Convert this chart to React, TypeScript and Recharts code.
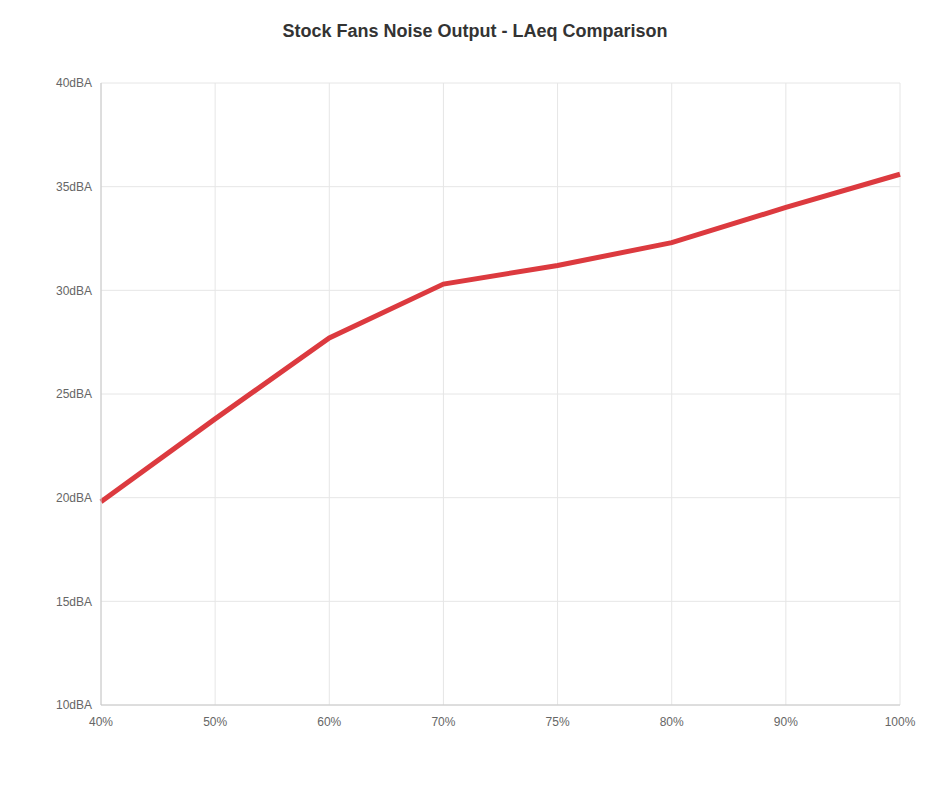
import React from "react";
import { LineChart, Line, XAxis, YAxis, CartesianGrid } from "recharts";

const categories = ["40%", "50%", "60%", "70%", "75%", "80%", "90%", "100%"];
const laeqValues = [19.8, 23.8, 27.7, 30.3, 31.2, 32.3, 34.0, 35.6];
const yTicks = [10, 15, 20, 25, 30, 35, 40];

const data = categories.map((c, i) => ({ name: c, laeq: laeqValues[i] }));

export default function App() {
  return (
    <div style={{ position: "relative", width: 934, height: 770, fontFamily: "'Liberation Sans', Arial, sans-serif" }}>
      <div
        style={{
          position: "absolute",
          top: 13,
          left: 0,
          width: 934,
          textAlign: "center",
          fontSize: 18,
          fontWeight: "bold",
          color: "#333",
        }}
      >
        Stock Fans Noise Output - LAeq Comparison
      </div>
      <LineChart
        width={934}
        height={760}
        data={data}
        margin={{ top: 75, right: 42, left: 33, bottom: 33 }}
      >
        <CartesianGrid stroke="#e6e6e6" strokeWidth={1} />
        <XAxis
          dataKey="name"
          tickLine={false}
          tickSize={0}
          tickMargin={12}
          axisLine={{ stroke: "#c8c8c8" }}
          tick={{ fill: "#666", fontSize: 12 }}
          height={30}
          interval={0}
        />
        <YAxis
          domain={[10, 40]}
          ticks={yTicks}
          tickFormatter={(v) => `${v}dBA`}
          tickLine={false}
          tickSize={0}
          tickMargin={9}
          axisLine={{ stroke: "#c8c8c8" }}
          tick={{ fill: "#666", fontSize: 12 }}
          width={60}
          interval={0}
        />
        <Line
          type="linear"
          dataKey="laeq"
          stroke="#dc3a3f"
          strokeWidth={5}
          dot={false}
          isAnimationActive={false}
        />
      </LineChart>
    </div>
  );
}
